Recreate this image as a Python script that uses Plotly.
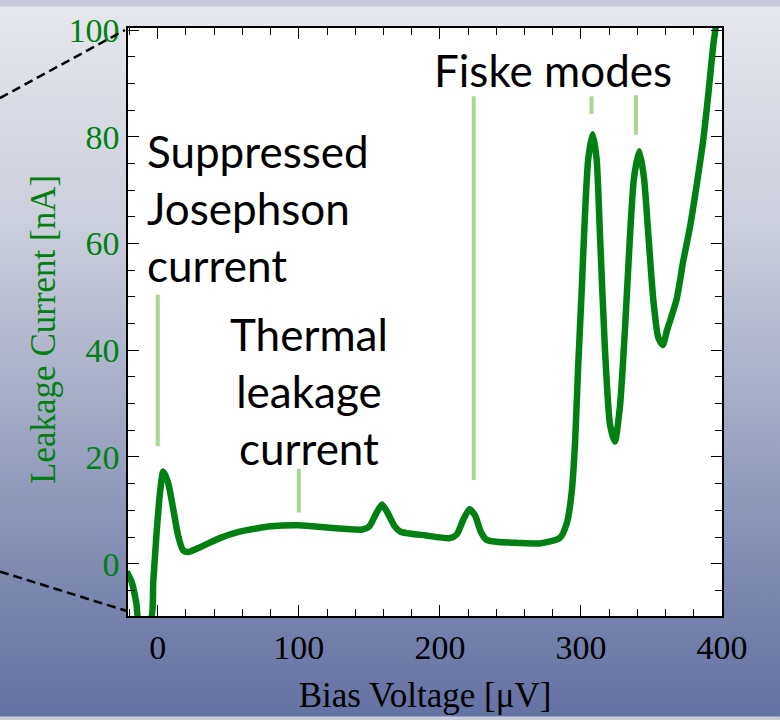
import base64
import plotly.graph_objects as go

# ---- data ----
bias_uV = [-22, -18.5, -15, -13.8, -5, -3.2, -0.8, 1.6, 3.9, 7.4, 11, 14.5, 18, 21.6, 30, 44, 58,
           70, 80, 100, 120, 135, 145, 150, 155, 159, 163, 168, 172, 190, 207, 212, 217, 221,
           225, 229, 233, 240, 255, 270.8, 285, 290, 293.4, 295.8, 298, 300.5, 302.8, 305.2,
           308.3, 311.1, 313.5, 317, 320.6, 324.1, 327.7, 331.2, 334.8, 337.6, 341.4, 344.7,
           347.8, 351.3, 354.8, 358, 361.2, 367.8, 372.5, 377.3, 382, 386.7, 390.3, 393.8,
           395.5, 396.5]
leak_nA = [-1.5, -3.4, -7.7, -10.2, -10.2, -3.4, 5.9, 13.3, 17.3, 15.1, 10.2, 5.2, 2.5, 2.2, 3.1,
           4.8, 6.0, 6.6, 7.0, 7.2, 6.8, 6.5, 6.4, 7, 9.5, 11.1, 9.5, 7, 6, 5.3, 4.8, 5.5, 8.5,
           10.2, 9, 6, 4.5, 4.1, 3.9, 3.8, 4.8, 7.6, 13.3, 22.5, 36.8, 51, 65.2, 75.9, 80.5,
           75.9, 61.6, 40.3, 26.1, 22.9, 29.6, 43.9, 61.6, 72.3, 77.3, 72.3, 61.6, 49.5,
           42.4, 41, 43.9, 49.5, 56.7, 63.1, 70.9, 79.4, 88, 97.2, 100.4, 102.5]

x_ticks = [0, 100, 200, 300, 400]
y_ticks = [0, 20, 40, 60, 80, 100]

# marker lines (x, y_start, y_end)
marker_x = [0, 100, 224, 307.5, 339]
marker_y0 = [22, 9.6, 15.7, 84.3, 80.4]
marker_y1 = [50.4, 17.8, 87.6, 87.6, 87.8]

labels = ["Suppressed<br>Josephson<br>current", "Thermal<br>leakage<br>current", "Fiske modes"]
label_x = [-9, 107, 280]
label_y = [66.7, 32.4, 92.6]
label_anchor = ["left", "center", "center"]

GREEN = "#008012"
LIGHT = "#a9d78f"

fig = go.Figure()
fig.add_trace(go.Scatter(x=bias_uV, y=leak_nA, mode="lines",
                         line=dict(color=GREEN, width=6.5, shape="spline", smoothing=0.6),
                         hoverinfo="skip", showlegend=False))

for xm, a, b in zip(marker_x, marker_y0, marker_y1):
    fig.add_shape(type="line", xref="x", yref="y", x0=xm, x1=xm, y0=a, y1=b,
                  line=dict(color=LIGHT, width=4))

for t, xa, ya, anc in zip(labels, label_x, label_y, label_anchor):
    fig.add_annotation(x=xa, y=ya, xref="x", yref="y", text=t, showarrow=False,
                       xanchor=anc, yanchor="middle", align=anc,
                       font=dict(family="Lato", size=44, color="black"))

# background gradient (paper) as svg image
svg = ('<svg xmlns="http://www.w3.org/2000/svg" width="780" height="720">'
       '<defs><linearGradient id="g" x1="0" y1="0" x2="0" y2="1">'
       '<stop offset="0" stop-color="rgb(230,231,237)"/>'
       '<stop offset="0.3" stop-color="rgb(204,207,220)"/>'
       '<stop offset="0.55" stop-color="rgb(166,173,198)"/>'
       '<stop offset="0.8" stop-color="rgb(126,137,176)"/>'
       '<stop offset="1" stop-color="rgb(100,114,164)"/>'
       '</linearGradient></defs><rect width="780" height="720" fill="url(#g)"/></svg>')
src = "data:image/svg+xml;base64," + base64.b64encode(svg.encode()).decode()

L, R, T, B = 128, 58, 22, 102
W, H = 780, 720
pw, ph = W - L - R, H - T - B

fig.add_layout_image(source=src, xref="paper", yref="paper",
                     x=-L / pw, y=1 + T / ph, sizex=W / pw, sizey=H / ph,
                     xanchor="left", yanchor="top", sizing="stretch", layer="below")
fig.add_shape(type="rect", xref="paper", yref="paper", x0=0, x1=1, y0=0, y1=1,
              fillcolor="white", line=dict(width=0), layer="below")

# dashed zoom lines
fig.add_shape(type="line", xref="paper", yref="paper",
              x0=-L / pw, y0=(H - B - 93) / ph, x1=-3 / pw, y1=(H - B - 24) / ph,
              line=dict(color="black", width=2.5, dash="9px,5px"))
fig.add_shape(type="line", xref="paper", yref="paper",
              x0=-L / pw, y0=(H - B - 573) / ph, x1=-1 / pw, y1=(H - B - 613) / ph,
              line=dict(color="black", width=2.5, dash="9px,5px"))

# y-axis title placed explicitly
fig.add_annotation(xref="paper", yref="paper", x=(44 - L) / pw, y=(H - B - 328) / ph,
                   text="Leakage Current [nA]", textangle=-90, showarrow=False,
                   xanchor="center", yanchor="middle",
                   font=dict(family="Liberation Serif", size=35, color=GREEN))

fig.update_layout(
    width=W, height=H,
    margin=dict(l=L, r=R, t=T, b=B),
    paper_bgcolor="rgb(200,204,218)",
    plot_bgcolor="white",
    showlegend=False,
)
fig.update_xaxes(range=[-21.1, 400], tickvals=x_ticks, ticks="inside", ticklen=11,
                 tickcolor="black", tickwidth=1.2, showgrid=False, zeroline=False,
                 showline=True, linecolor="black", linewidth=1.5, mirror="allticks",
                 minor=dict(dtick=20, tick0=0, ticks="inside", ticklen=7, tickcolor="black", tickwidth=1),
                 tickfont=dict(family="Liberation Serif", size=34, color="black"),
                 title=dict(text="Bias Voltage [μV]", standoff=18,
                            font=dict(family="Liberation Serif", size=35, color="black")))
fig.update_yaxes(range=[-9.8, 100.4], tickvals=y_ticks, ticks="inside", ticklen=11,
                 tickcolor="black", tickwidth=1.2, showgrid=False, zeroline=False,
                 showline=True, linecolor="black", linewidth=1.5, mirror="allticks",
                 minor=dict(dtick=5, tick0=0, ticks="inside", ticklen=7, tickcolor="black", tickwidth=1),
                 tickfont=dict(family="Liberation Serif", size=34, color=GREEN))

fig.write_html("out.html")
